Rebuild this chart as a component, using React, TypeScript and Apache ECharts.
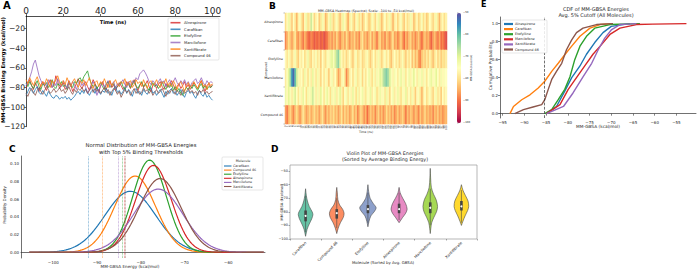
import { useEffect, useRef } from "react";
import * as echarts from "echarts";

const FONT = "DejaVu Sans";

// ---------- Panel A / B data (MM-GBSA per ns) ----------
const MOLECULES = ["Alnespirone", "Carafiban", "Etofylline", "Marcilofone", "Xantifibrate", "Compound 46"];
const TIME_NS = Array.from({ length: 101 }, (_, i) => i);

const ALNESPIRONE = [-80,-76,-72,-78,-82,-75,-79,-84,-77,-74,-79,-83,-76,-72,-80,-78,-68,-74,-81,-77,-75,-82,-79,-73,-77,-84,-80,-76,-71,-78,-81,-77,-74,-79,-83,-78,-72,-76,-80,-85,-78,-74,-79,-82,-76,-73,-80,-77,-83,-79,-75,-78,-82,-80,-74,-77,-81,-76,-72,-79,-83,-78,-75,-80,-77,-73,-79,-84,-78,-76,-81,-77,-74,-79,-82,-76,-80,-78,-73,-77,-83,-79,-76,-81,-78,-74,-80,-77,-82,-79,-75,-78,-81,-77,-73,-79,-84,-78,-76,-80,-77];
const CARAFIBAN = [-88,-84,-80,-83,-86,-82,-79,-85,-87,-83,-86,-89,-84,-87,-90,-91,-88,-89,-92,-90,-91,-89,-92,-90,-93,-91,-89,-86,-84,-87,-83,-86,-81,-85,-88,-84,-82,-86,-80,-84,-87,-83,-85,-81,-86,-84,-88,-82,-79,-85,-83,-87,-84,-80,-86,-82,-85,-89,-83,-81,-86,-84,-88,-82,-85,-87,-83,-80,-86,-84,-88,-85,-82,-86,-90,-84,-87,-83,-81,-86,-84,-88,-85,-82,-87,-90,-85,-83,-86,-84,-88,-91,-86,-83,-87,-89,-85,-90,-88,-91,-93];
const ETOFYLLINE = [-76,-79,-74,-78,-81,-77,-73,-79,-82,-76,-78,-75,-80,-77,-72,-79,-81,-76,-78,-74,-79,-77,-82,-75,-78,-80,-74,-76,-72,-70,-74,-69,-66,-63,-71,-76,-79,-77,-81,-78,-75,-79,-82,-77,-74,-80,-78,-76,-81,-79,-77,-74,-79,-82,-78,-75,-80,-77,-73,-78,-81,-77,-74,-79,-76,-80,-83,-78,-75,-79,-77,-81,-78,-74,-79,-82,-77,-80,-76,-83,-79,-84,-81,-86,-88,-83,-80,-82,-78,-81,-77,-80,-83,-79,-76,-81,-78,-82,-79,-80,-78];
const MARCILOFONE = [-78,-74,-70,-64,-56,-52,-60,-68,-73,-77,-75,-79,-72,-76,-80,-74,-78,-71,-76,-79,-73,-77,-81,-75,-79,-74,-77,-82,-76,-73,-78,-75,-80,-86,-82,-77,-74,-79,-88,-83,-78,-75,-80,-76,-73,-79,-77,-74,-81,-76,-79,-75,-72,-77,-80,-74,-78,-73,-76,-70,-72,-66,-64,-62,-65,-69,-74,-77,-73,-75,-78,-74,-71,-76,-73,-79,-75,-72,-77,-74,-70,-75,-78,-73,-76,-72,-77,-74,-79,-75,-73,-71,-76,-74,-70,-75,-78,-73,-76,-74,-75];
const XANTIFIBRATE = [-72,-76,-70,-74,-78,-73,-69,-75,-79,-74,-77,-71,-75,-80,-73,-76,-72,-68,-74,-78,-73,-77,-70,-75,-79,-74,-71,-76,-80,-73,-76,-72,-78,-74,-70,-77,-81,-75,-73,-79,-74,-77,-71,-76,-80,-73,-78,-75,-72,-77,-79,-74,-76,-71,-78,-75,-73,-80,-77,-72,-76,-74,-79,-72,-77,-81,-75,-73,-78,-76,-72,-77,-80,-74,-76,-71,-78,-75,-79,-73,-77,-82,-76,-74,-79,-84,-78,-75,-80,-77,-74,-78,-81,-76,-73,-79,-77,-82,-75,-78,-76];
const COMPOUND_46 = [-86,-89,-84,-81,-85,-88,-83,-80,-84,-87,-83,-79,-82,-86,-84,-81,-85,-83,-80,-84,-82,-86,-83,-79,-84,-87,-82,-85,-81,-83,-80,-84,-82,-86,-83,-79,-85,-81,-84,-82,-86,-83,-80,-85,-82,-88,-84,-81,-83,-87,-84,-90,-86,-82,-85,-83,-88,-84,-81,-86,-83,-87,-85,-80,-84,-82,-86,-83,-88,-85,-82,-86,-84,-81,-85,-89,-83,-86,-82,-84,-87,-83,-85,-88,-82,-86,-84,-81,-85,-83,-86,-84,-88,-83,-85,-82,-86,-84,-87,-85,-84];
const TRAJ = [ALNESPIRONE, CARAFIBAN, ETOFYLLINE, MARCILOFONE, XANTIFIBRATE, COMPOUND_46];
const TRAJ_COLORS = ["#d62728", "#1f77b4", "#2ca02c", "#9467bd", "#ff7f0e", "#8c564b"];
const A_X_TICKS = [0, 20, 40, 60, 80, 100];
const A_Y_TICKS = [-120, -100, -80, -60, -40, -20];

const SPECTRAL = ["#9e0142", "#d53e4f", "#f46d43", "#fdae61", "#fee08b", "#ffffbf", "#e6f598", "#abdda4", "#66c2a5", "#3288bd", "#5e4fa2"];
const CB_TICKS = [-100, -90, -80, -70, -60, -50];

// ---------- Panel C ----------
const C_NAMES = ["Carafiban", "Compound 46", "Etofylline", "Alnespirone", "Marcilofone", "Xantifibrate"];
const C_MEANS = [-82.4, -81.3, -78.0, -77.1, -76.0, -75.6];
const C_SDS = [5.8, 4.64, 3.84, 4.07, 5.6, 4.8];
const C_THRESHOLDS = [-92.0, -88.9, -84.3, -83.8, -85.2, -83.5];
const C_COLORS = ["#1f77b4", "#ff7f0e", "#2ca02c", "#d62728", "#9467bd", "#8c564b"];
const C_X_TICKS = [-100, -90, -80, -70, -60];
const C_Y_TICKS = [0, 0.02, 0.04, 0.06, 0.08, 0.1];

// ---------- Panel D ----------
const D_NAMES = ["Carafiban", "Compound 46", "Etofylline", "Alnespirone", "Marcilofone", "Xantifibrate"];
const D_PROFILES = [
  [[-63, 0], [-68, 0.1], [-72, 0.25], [-76, 0.5], [-80, 0.9], [-82, 1], [-85, 0.85], [-89, 0.5], [-93, 0.2], [-98, 0]],
  [[-62, 0], [-66, 0.08], [-71, 0.15], [-75, 0.4], [-78, 0.8], [-81, 1], [-84, 0.9], [-88, 0.5], [-92, 0.2], [-96, 0]],
  [[-60, 0], [-65, 0.1], [-70, 0.3], [-74, 0.75], [-77, 1.12], [-80, 0.85], [-83, 0.4], [-87, 0.15], [-91, 0]],
  [[-62, 0], [-66, 0.15], [-70, 0.5], [-74, 0.9], [-78, 1.1], [-81, 0.9], [-84, 0.5], [-86, 0.25], [-88, 0]],
  [[-48, 0], [-55, 0.05], [-62, 0.15], [-67, 0.45], [-71, 0.8], [-76, 1], [-80, 0.85], [-84, 0.5], [-88, 0.2], [-92, 0.08], [-96, 0]],
  [[-60, 0], [-64, 0.2], [-68, 0.55], [-72, 0.9], [-76, 1], [-79, 0.85], [-83, 0.5], [-87, 0.2], [-90, 0]],
];
const D_MEDIAN = [-83, -81, -78, -78, -77, -76];
const D_Q1 = [-87, -85, -81, -81, -81, -79];
const D_Q3 = [-79, -78, -75, -74, -73, -72];
const D_LO = [-95, -92, -88, -86, -90, -88];
const D_HI = [-68, -70, -66, -66, -63, -64];
const D_COLORS = ["#66c2a5", "#fc8d62", "#8da0cb", "#e78ac3", "#a6d854", "#ffd92f"];
const D_Y_TICKS = [-100, -90, -80, -70, -60, -50];

// ---------- Panel E ----------
const E_NAMES = ["Alnespirone", "Carafiban", "Etofylline", "Marcilofone", "Xantifibrate", "Compound 46"];
const E_COLORS = ["#1f77b4", "#ff7f0e", "#2ca02c", "#d62728", "#9467bd", "#8c564b"];
const E_ALNESPIRONE = [[-84.9, 0], [-82.6, 0.08], [-80.7, 0.25], [-79.1, 0.4], [-77.2, 0.53], [-75.7, 0.66], [-73.8, 0.79], [-71.9, 0.9], [-70, 0.97], [-65.7, 1]];
const E_CARAFIBAN = [[-93.3, 0], [-92.5, 0.08], [-90.6, 0.155], [-88.7, 0.21], [-86.8, 0.285], [-85.3, 0.36], [-83.7, 0.47], [-82.2, 0.56], [-80.7, 0.655], [-79.1, 0.75], [-77.2, 0.86], [-74.9, 0.95], [-72.6, 0.99], [-69.6, 1]];
const E_ETOFYLLINE = [[-85.3, 0], [-83.7, 0.045], [-82.2, 0.155], [-80.7, 0.27], [-79.5, 0.41], [-78.4, 0.6], [-77.2, 0.75], [-75.7, 0.86], [-73.8, 0.95], [-70.3, 0.99], [-63.4, 1]];
const E_MARCILOFONE = [[-84.9, 0], [-81.8, 0.1], [-79.9, 0.27], [-78, 0.4], [-76.1, 0.53], [-74.2, 0.66], [-72.2, 0.77], [-70.3, 0.88], [-68, 0.95], [-64.2, 0.99], [-60.4, 0.995], [-52.7, 1]];
const E_XANTIFIBRATE = [[-84.9, 0], [-81, 0.08], [-78.8, 0.23], [-76.5, 0.41], [-74.5, 0.56], [-73, 0.71], [-71.5, 0.84], [-70, 0.93], [-68, 0.99], [-64.2, 1]];
const E_COMPOUND46 = [[-92.2, 0], [-90.2, 0.045], [-88, 0.074], [-86, 0.1], [-85.3, 0.155], [-84.5, 0.27], [-83.7, 0.38], [-82.6, 0.47], [-81.4, 0.56], [-80.3, 0.71], [-79.1, 0.82], [-78, 0.9], [-76.5, 0.95], [-73.4, 0.99], [-69.6, 1]];
const E_CURVES = [E_ALNESPIRONE, E_CARAFIBAN, E_ETOFYLLINE, E_MARCILOFONE, E_XANTIFIBRATE, E_COMPOUND46];
const E_CUTOFF = -85.4;
const E_X_TICKS = [-95, -90, -85, -80, -75, -70, -65, -60, -55];
const E_Y_TICKS = [0, 0.2, 0.4, 0.6, 0.8, 1.0];

const minus = (s: string) => s.replace("-", "\u2212");

function txt(text: string, x: number, y: number, fs: number, o: any = {}) {
  return {
    type: "text", x, y, rotation: o.rot || 0, z: o.z ?? 100, silent: true,
    style: {
      text, fontSize: fs, fontFamily: FONT, fontWeight: o.bold ? "bold" : "normal",
      fill: o.color || "#262626", align: o.align || "center", verticalAlign: o.va || "middle",
    },
  };
}

function legendBox(x: number, y: number, w: number, h: number, names: string[], colors: string[], o: any) {
  const els: any[] = [{
    type: "rect", z: 99, silent: true, shape: { x, y, width: w, height: h, r: 1 },
    style: { fill: "rgba(255,255,255,0.85)", stroke: "#cccccc", lineWidth: 0.5 },
  }];
  if (o.title) els.push(txt(o.title, o.titleX, o.titleY, o.fs, { align: "center" }));
  names.forEach((n, k) => {
    const cy = o.y0 + k * o.dy;
    els.push({ type: "line", z: 100, silent: true, shape: { x1: o.sx, y1: cy, x2: o.sx + o.sl, y2: cy }, style: { stroke: colors[k], lineWidth: o.lw, opacity: o.op || 1 } });
    els.push(txt(n, o.tx, cy, o.fs, { align: "left" }));
  });
  return els;
}

function axisCommon(fs: number, ticks: number[], fmt: (v: number) => string, color = "#333", margin = 2) {
  return {
    axisLine: { show: true, lineStyle: { color, width: 0.7 } },
    axisTick: { show: true, length: 2, lineStyle: { color, width: 0.6 }, customValues: ticks },
    axisLabel: { fontSize: fs, color: "#262626", fontFamily: FONT, margin, customValues: ticks, formatter: fmt },
    splitLine: { show: false },
  };
}

export default function App() {
  const ref = useRef<HTMLDivElement>(null);
  useEffect(() => {
    if (!ref.current) return;
    const chart = echarts.init(ref.current, null, { renderer: "svg" });

    const grids = [
      { left: 26, top: 16, width: 194, height: 110.7 },
      { left: 285, top: 13, width: 162, height: 111 },
      { left: 457, top: 13, width: 4, height: 110 },
      { left: 21, top: 156, width: 244, height: 102 },
      { left: 290, top: 165, width: 187, height: 74, show: true, borderColor: "#999", borderWidth: 0.7 },
      { left: 500, top: 17, width: 196, height: 101 },
    ].map((g) => ({ ...g, containLabel: false, outerBoundsMode: "none" }));

    const fmt0 = (v: number) => minus(String(v));

    const xAxis: any[] = [
      { gridIndex: 0, type: "value", position: "top", min: 0, max: 104, ...axisCommon(9, A_X_TICKS, fmt0, "#000", 0.5) },
      { gridIndex: 1, type: "category", data: TIME_NS.map(String), axisLine: { show: false }, axisTick: { show: false },
        axisLabel: { fontSize: 2.4, rotate: 90, interval: 0, margin: 1.5, color: "#333", fontFamily: FONT }, splitLine: { show: false } },
      { gridIndex: 2, type: "value", show: false, min: 0, max: 1 },
      { gridIndex: 3, type: "value", min: -107.4, max: -51.6, ...axisCommon(4, C_X_TICKS, fmt0), axisTick: { show: false } },
      { gridIndex: 4, type: "category", data: D_NAMES, axisLine: { show: false }, axisTick: { show: true, length: 1.5, lineStyle: { color: "#555", width: 0.5 } },
        axisLabel: { fontSize: 3.8, rotate: 45, interval: 0, margin: 3, color: "#262626", fontFamily: FONT }, splitLine: { show: false } },
      { gridIndex: 5, type: "value", min: -95.6, max: -50.5, ...axisCommon(4, E_X_TICKS, fmt0) },
    ];
    const yAxis: any[] = [
      { gridIndex: 0, type: "value", min: -120, max: -7, ...axisCommon(7.6, A_Y_TICKS, fmt0, "#000", 1), axisTick: { show: true, length: 1.8, customValues: A_Y_TICKS, lineStyle: { color: "#000", width: 0.6 } } },
      { gridIndex: 1, type: "category", data: MOLECULES, inverse: true, axisLine: { show: false },
        axisTick: { show: true, length: 1.5, lineStyle: { color: "#444", width: 0.4 } },
        axisLabel: { fontSize: 3.2, margin: 2, color: "#262626", fontFamily: FONT }, splitLine: { show: false } },
      { gridIndex: 2, type: "value", position: "right", min: -100, max: -50, axisLine: { show: false },
        axisTick: { show: true, length: 1.5, customValues: CB_TICKS, lineStyle: { color: "#444", width: 0.4 } },
        axisLabel: { fontSize: 2.6, margin: 2, color: "#262626", fontFamily: FONT, customValues: CB_TICKS, formatter: fmt0 }, splitLine: { show: false } },
      { gridIndex: 3, type: "value", min: -0.0064, max: 0.1085, ...axisCommon(4, C_Y_TICKS, (v: number) => v.toFixed(2)), axisTick: { show: false } },
      { gridIndex: 4, type: "value", min: -100, max: -45.5, axisLine: { show: false },
        axisTick: { show: true, length: 1.5, customValues: D_Y_TICKS, lineStyle: { color: "#555", width: 0.5 } },
        axisLabel: { fontSize: 3.5, margin: 2, color: "#262626", fontFamily: FONT, customValues: D_Y_TICKS, formatter: fmt0 }, splitLine: { show: false } },
      { gridIndex: 5, type: "value", min: -0.048, max: 1.074, ...axisCommon(4, E_Y_TICKS, (v: number) => v.toFixed(1)) },
    ];

    const series: any[] = [];
    // A
    TRAJ.forEach((arr, k) => {
      series.push({
        type: "line", name: MOLECULES[k], xAxisIndex: 0, yAxisIndex: 0, showSymbol: false, silent: true,
        data: TIME_NS.map((t, i) => [t, arr[i]]),
        lineStyle: { color: TRAJ_COLORS[k], width: 0.9, opacity: 0.9 }, itemStyle: { color: TRAJ_COLORS[k] },
      });
    });
    // B heatmap
    const heat: number[][] = [];
    TRAJ.forEach((arr, r) => arr.forEach((v, c) => heat.push([c, r, v])));
    series.push({ type: "heatmap", xAxisIndex: 1, yAxisIndex: 1, data: heat, silent: true, progressive: 0,
      itemStyle: { borderWidth: 0 } });
    const heatIdx = series.length - 1;
    // C
    const cx: number[] = [];
    for (let x = -105.5; x <= -51.6; x += 0.4) cx.push(x);
    C_NAMES.forEach((n, k) => {
      const m = C_MEANS[k], s = C_SDS[k];
      series.push({
        type: "line", name: n, xAxisIndex: 3, yAxisIndex: 3, showSymbol: false, silent: true,
        data: cx.map((x) => [x, Math.exp(-0.5 * ((x - m) / s) ** 2) / (s * Math.sqrt(2 * Math.PI))]),
        lineStyle: { color: C_COLORS[k], width: 1.2 }, itemStyle: { color: C_COLORS[k] },
        markLine: { silent: true, symbol: "none", label: { show: false },
          lineStyle: { color: C_COLORS[k], type: "dotted", width: 0.7, opacity: 0.8 },
          data: [{ xAxis: C_THRESHOLDS[k] }] },
      });
    });
    // D violins
    series.push({
      type: "custom", xAxisIndex: 4, yAxisIndex: 4, silent: true,
      data: D_NAMES.map((_, i) => [i]),
      renderItem: (params: any, api: any) => {
        const i = api.value(0);
        const prof = D_PROFILES[i];
        const band = api.size([1, 0])[0];
        const hw = band * 0.235;
        const right = prof.map(([v, w]) => { const p = api.coord([i, v]); return [p[0] + w * hw, p[1]]; });
        const left = prof.map(([v, w]) => { const p = api.coord([i, v]); return [p[0] - w * hw, p[1]]; }).reverse();
        const c = api.coord([i, D_MEDIAN[i]]);
        const lo = api.coord([i, D_LO[i]]);
        const hi = api.coord([i, D_HI[i]]);
        const q1 = api.coord([i, D_Q1[i]]);
        const q3 = api.coord([i, D_Q3[i]]);
        return {
          type: "group",
          children: [
            { type: "polygon", shape: { points: right.concat(left), smooth: 0.3 },
              style: { fill: D_COLORS[i], stroke: "#4a4a4a", lineWidth: 0.6 } },
            { type: "line", shape: { x1: c[0], y1: lo[1], x2: c[0], y2: hi[1] }, style: { stroke: "#444", lineWidth: 0.6 } },
            { type: "rect", shape: { x: c[0] - 1.3, y: q3[1], width: 2.6, height: q1[1] - q3[1] }, style: { fill: "#444" } },
            { type: "circle", shape: { cx: c[0], cy: c[1], r: 1.0 }, style: { fill: "#fff" } },
          ],
        };
      },
    });
    // E
    E_CURVES.forEach((pts, k) => {
      series.push({
        type: "line", name: E_NAMES[k], xAxisIndex: 5, yAxisIndex: 5, showSymbol: false, silent: true,
        data: pts, lineStyle: { color: E_COLORS[k], width: 1.4 }, itemStyle: { color: E_COLORS[k] },
        markLine: k === 0 ? { silent: true, symbol: "none", label: { show: false },
          lineStyle: { color: "#333", type: "dashed", width: 0.7 }, data: [{ xAxis: E_CUTOFF }] } : undefined,
      });
    });

    const graphicEls: any[] = [
      txt("A", 3, 5, 10, { bold: true, align: "left", color: "#000" }),
      txt("B", 269, 6, 9, { bold: true, align: "left", color: "#000" }),
      txt("C", 9, 149, 9, { bold: true, align: "left", color: "#000" }),
      txt("D", 271, 149, 9, { bold: true, align: "left", color: "#000" }),
      txt("E", 481, 4.5, 8, { bold: true, align: "left", color: "#000" }),
      // A
      txt("MM-GBSA Binding Energy (kcal/mol)", 3.3, 70, 5.2, { bold: true, rot: Math.PI / 2, color: "#000", z: 0 }),
      txt("Time (ns)", 113, 22, 5, { bold: true, color: "#000" }),
      ...legendBox(168, 18, 51, 42, MOLECULES, TRAJ_COLORS, { y0: 22.7, dy: 6.6, sx: 170.5, sl: 10, tx: 184, fs: 3.8, lw: 1.6, op: 0.8 }),
      // B
      txt("MM-GBSA Heatmap (Spectral; Scale: -100 to -50 kcal/mol)", 366, 10.5, 3.3),
      txt("Compound", 266, 70, 3, { rot: Math.PI / 2 }),
      txt("Time (ns)", 366, 132, 3),
      txt("MM-GBSA (kcal/mol)", 472, 68, 2.6, { rot: Math.PI / 2 }),
      // C
      txt("Normal Distribution of MM-GBSA Energies", 141, 145, 5.3),
      txt("with Top 5% Binding Thresholds", 141, 151.5, 5.3),
      txt("Probability Density", 4, 205, 4, { rot: Math.PI / 2 }),
      txt("MM-GBSA Energy (kcal/mol)", 130, 266.5, 4.2),
      ...legendBox(222, 157, 41, 33, C_NAMES, C_COLORS, { title: "Molecule", titleX: 243, titleY: 160.5, y0: 166, dy: 4.1, sx: 224, sl: 7.5, tx: 233, fs: 3.3, lw: 1.1 }),
      // D
      txt("Violin Plot of MM-GBSA Energies", 385, 153.3, 4.8),
      txt("(Sorted by Average Binding Energy)", 385, 159.2, 4.8),
      txt("MM-GBSA (kcal/mol)", 282, 202, 3.6, { rot: Math.PI / 2 }),
      txt("Molecule (Sorted by Avg. GBSA)", 383, 262.5, 3.9),
      // E
      txt("CDF of MM-GBSA Energies", 596, 8.5, 5),
      txt("Avg. 5% Cutoff (All Molecules)", 596, 15, 5),
      txt("Cumulative Probability", 490, 66, 4.3, { rot: Math.PI / 2 }),
      txt("MM-GBSA (kcal/mol)", 598, 126.8, 4.3),
      ...legendBox(502, 20, 45, 33, E_NAMES, E_COLORS, { y0: 24, dy: 5.1, sx: 504, sl: 9, tx: 515, fs: 3.4, lw: 2.2 }),
    ];

    chart.setOption({
      animation: false,
      backgroundColor: "#ffffff",
      textStyle: { fontFamily: FONT },
      grid: grids,
      xAxis,
      yAxis,
      visualMap: [{
        type: "continuous", seriesIndex: heatIdx, min: -100, max: -50, show: true, calculable: false,
        left: 457, top: 13, itemWidth: 4, itemHeight: 110, padding: 0, orient: "vertical",
        inRange: { color: SPECTRAL }, textStyle: { fontSize: 1, color: "rgba(0,0,0,0)" },
      }],
      series,
      graphic: { elements: graphicEls },
    });
    return () => chart.dispose();
  }, []);
  return <div ref={ref} style={{ position: "fixed", left: 0, top: 0, width: 697, height: 270, background: "#fff" }} />;
}
